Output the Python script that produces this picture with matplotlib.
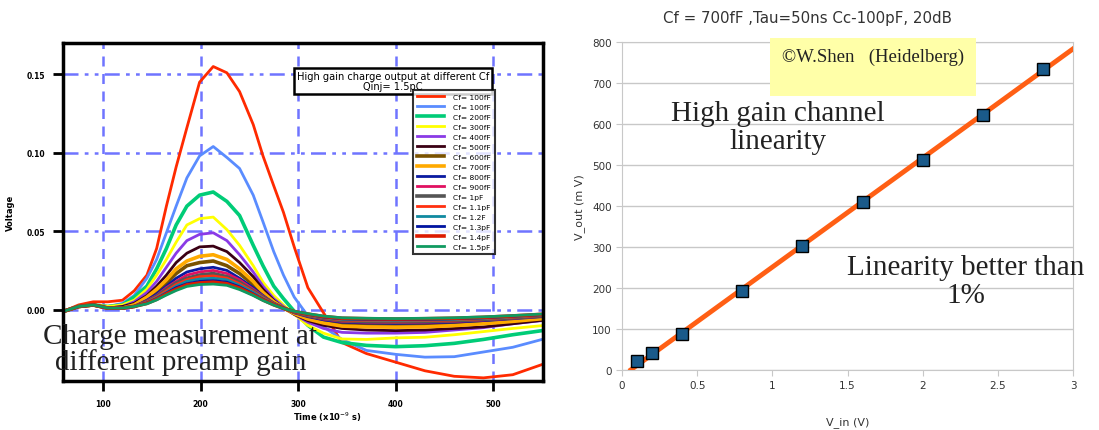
import matplotlib
matplotlib.use('Agg')
import matplotlib.pyplot as plt
from matplotlib.patches import Rectangle

# time samples (x1e-9 s)
t = [60, 75, 90, 105, 120, 132, 145, 155, 165, 175, 186, 199, 213, 227, 240,
     254, 264, 275, 285, 296, 310, 326, 345, 370, 400, 430, 460, 490, 520, 550]

v_100fF_a = [-0.001, 0.003, 0.005, 0.005, 0.006, 0.012, 0.022, 0.039, 0.066, 0.091, 0.116, 0.145, 0.155, 0.151, 0.139,
             0.118, 0.098, 0.079, 0.062, 0.040, 0.014, -0.002, -0.021, -0.028, -0.0335, -0.039, -0.0425, -0.0435, -0.0415, -0.035]
v_100fF_b = [-0.001, 0.002, 0.003, 0.002, 0.004, 0.009, 0.020, 0.032, 0.049, 0.066, 0.084, 0.098, 0.104, 0.097, 0.090,
             0.073, 0.056, 0.037, 0.022, 0.008, -0.004, -0.011, -0.019, -0.026, -0.0285, -0.0303, -0.030, -0.027, -0.024, -0.019]
v_200fF = [-0.001, 0.002, 0.003, 0.002, 0.003, 0.008, 0.015, 0.026, 0.039, 0.054, 0.066, 0.073, 0.075, 0.069, 0.060,
           0.041, 0.028, 0.015, 0.007, -0.001, -0.010, -0.0175, -0.021, -0.0228, -0.0236, -0.023, -0.0215, -0.019, -0.016, -0.0134]
v_300fF = [-0.001, 0.002, 0.003, 0.002, 0.003, 0.006, 0.013, 0.022, 0.032, 0.043, 0.054, 0.058, 0.059, 0.051, 0.041,
           0.028, 0.0175, 0.009, 0.003, -0.003, -0.010, -0.015, -0.0187, -0.019, -0.018, -0.0176, -0.016, -0.014, -0.012, -0.0102]
v_400fF = [-0.001, 0.002, 0.003, 0.001, 0.002, 0.005, 0.011, 0.018, 0.027, 0.036, 0.044, 0.048, 0.049, 0.044, 0.035,
           0.024, 0.015, 0.007, 0.002, -0.003, -0.008, -0.012, -0.0145, -0.015, -0.015, -0.0145, -0.013, -0.0115, -0.009, -0.007]
v_500fF = [-0.001, 0.002, 0.003, 0.001, 0.002, 0.004, 0.009, 0.015, 0.022, 0.030, 0.036, 0.040, 0.0405, 0.037, 0.030,
           0.021, 0.013, 0.006, 0.001, -0.003, -0.007, -0.010, -0.012, -0.013, -0.0134, -0.013, -0.012, -0.011, -0.009, -0.0068]
v_600fF = [-0.001, 0.002, 0.003, 0.001, 0.001, 0.003, 0.007, 0.012, 0.017, 0.023, 0.028, 0.030, 0.031, 0.028, 0.023,
           0.016, 0.010, 0.005, 0.001, -0.002, -0.005, -0.0075, -0.009, -0.0095, -0.0098, -0.0095, -0.009, -0.008, -0.0065, -0.005]
v_700fF = [-0.001, 0.002, 0.003, 0.001, 0.001, 0.003, 0.008, 0.013, 0.019, 0.026, 0.031, 0.034, 0.035, 0.032, 0.026,
           0.018, 0.011, 0.005, 0.001, -0.0025, -0.006, -0.0085, -0.0105, -0.011, -0.0112, -0.011, -0.0102, -0.009, -0.0075, -0.0058]
v_800fF = [-0.001, 0.002, 0.003, 0.001, 0.001, 0.002, 0.006, 0.010, 0.015, 0.020, 0.024, 0.026, 0.027, 0.025, 0.020,
           0.014, 0.009, 0.004, 0.001, -0.002, -0.0045, -0.0065, -0.008, -0.0085, -0.0088, -0.0085, -0.008, -0.007, -0.0058, -0.0045]
v_900fF = [-0.001, 0.002, 0.003, 0.001, 0.001, 0.002, 0.0055, 0.009, 0.014, 0.018, 0.022, 0.024, 0.025, 0.023, 0.019,
           0.013, 0.0085, 0.004, 0.001, -0.0018, -0.004, -0.006, -0.0075, -0.008, -0.0082, -0.008, -0.0075, -0.0066, -0.0055, -0.0042]
v_1pF = [-0.001, 0.002, 0.003, 0.001, 0.001, 0.002, 0.005, 0.0085, 0.013, 0.017, 0.020, 0.022, 0.023, 0.021, 0.0175,
         0.012, 0.008, 0.004, 0.001, -0.0016, -0.0037, -0.0055, -0.007, -0.0075, -0.0077, -0.0075, -0.007, -0.0062, -0.0052, -0.004]
v_1p1pF = [-0.001, 0.002, 0.003, 0.001, 0.001, 0.002, 0.0048, 0.008, 0.012, 0.016, 0.019, 0.021, 0.0215, 0.020, 0.0165,
           0.0115, 0.0075, 0.0038, 0.001, -0.0015, -0.0035, -0.0052, -0.0066, -0.007, -0.0072, -0.007, -0.0066, -0.0058, -0.0048, -0.0037]
v_1p2pF = [-0.001, 0.002, 0.003, 0.001, 0.001, 0.002, 0.0045, 0.0075, 0.011, 0.015, 0.018, 0.0195, 0.020, 0.019, 0.0155,
           0.011, 0.007, 0.0035, 0.001, -0.0014, -0.0033, -0.005, -0.0062, -0.0066, -0.0068, -0.0066, -0.0062, -0.0055, -0.0045, -0.0034]
v_1p3pF = [-0.001, 0.002, 0.003, 0.001, 0.001, 0.002, 0.0042, 0.007, 0.0105, 0.014, 0.0165, 0.018, 0.0185, 0.0175, 0.0145,
           0.010, 0.0065, 0.0033, 0.0009, -0.0013, -0.003, -0.0047, -0.0058, -0.0062, -0.0064, -0.0062, -0.0058, -0.0052, -0.0042, -0.0032]
v_1p4pF = [-0.001, 0.002, 0.003, 0.001, 0.001, 0.002, 0.004, 0.0066, 0.010, 0.013, 0.0158, 0.017, 0.0175, 0.0165, 0.0137,
           0.0095, 0.0062, 0.0031, 0.0008, -0.0012, -0.0028, -0.0044, -0.0055, -0.0058, -0.006, -0.0058, -0.0055, -0.0049, -0.004, -0.003]
v_1p5pF = [-0.001, 0.002, 0.003, 0.001, 0.001, 0.002, 0.0037, 0.0062, 0.0093, 0.0122, 0.0148, 0.016, 0.0163, 0.0155, 0.0128,
           0.009, 0.0058, 0.0029, 0.0007, -0.0011, -0.0026, -0.0041, -0.0052, -0.0055, -0.0057, -0.0055, -0.0052, -0.0046, -0.0038, -0.0028]

labels = ['Cf= 100fF', 'Cf= 100fF', 'Cf= 200fF', 'Cf= 300fF', 'Cf= 400fF', 'Cf= 500fF',
          'Cf= 600fF', 'Cf= 700fF', 'Cf= 800fF', 'Cf= 900fF', 'Cf= 1pF', 'Cf= 1.1pF',
          'Cf= 1.2F', 'Cf= 1.3pF', 'Cf= 1.4pF', 'Cf= 1.5pF']
curves = [v_100fF_a, v_100fF_b, v_200fF, v_300fF, v_400fF, v_500fF, v_600fF, v_700fF,
          v_800fF, v_900fF, v_1pF, v_1p1pF, v_1p2pF, v_1p3pF, v_1p4pF, v_1p5pF]
colors = ['#ff2a00', '#5a8cff', '#00cc77', '#ffff00', '#8a3ae6', '#3a0014', '#7a5200', '#ffaa00',
          '#0a1aa0', '#e01060', '#555555', '#ff3010', '#108aa0', '#0014a0', '#dd1a00', '#109a60']
widths = [2.0, 2.0, 2.6, 2.0, 2.0, 2.0, 2.6, 2.6, 2.0, 2.0, 2.6, 2.0, 2.0, 2.0, 2.6, 2.0]

# linearity measurement
v_in = [0.1, 0.2, 0.4, 0.8, 1.2, 1.6, 2.0, 2.4, 2.8]
v_out = [22, 41, 88, 192, 302, 410, 513, 622, 734]
fit_x = [0.06, 3.0]
fit_y = [0, 784]

fig = plt.figure(figsize=(10.99, 4.31), dpi=100)

# ---- left: scope traces
ax = fig.add_axes([0.0573, 0.1137, 0.4368, 0.7842])
grid_c = '#6f74ff'
for x in [100, 200, 300, 400, 500]:
    ax.axvline(x, color=grid_c, lw=1.8, ls=(0, (4, 3)), zorder=0)
for y in [0.0, 0.05, 0.10, 0.15]:
    ax.axhline(y, color=grid_c, lw=1.8, ls=(0, (6, 2.5, 1.5, 2.5, 1.5, 2.5)), zorder=0)
for v, c, w, lab in zip(curves, colors, widths, labels):
    ax.plot(t, v, color=c, lw=w, label=lab)
ax.set_xlim(59, 551)
ax.set_ylim(-0.0455, 0.17)
ax.set_xticks([100, 200, 300, 400, 500])
ax.set_yticks([0.0, 0.05, 0.10, 0.15])
ax.set_yticklabels(['0.00', '0.05', '0.10', '0.15'])
ax.tick_params(direction='out', length=7, width=2, labelsize=5.5, pad=6)
for lb in ax.get_xticklabels() + ax.get_yticklabels():
    lb.set_fontweight('bold')
for s in ax.spines.values():
    s.set_linewidth(2.5)
ax.set_xlabel('Time (x10$^{-9}$ s)', fontsize=6, fontweight='bold', labelpad=2)
ax.set_ylabel('Voltage', fontsize=6, fontweight='bold', labelpad=8)
ax.xaxis.set_label_coords(0.55, -0.085)
leg = ax.legend(loc='upper left', bbox_to_anchor=(0.722, 0.872), fontsize=5.4,
                frameon=True, fancybox=False, edgecolor='black', handlelength=3.6,
                labelspacing=0.5, borderpad=0.5, handletextpad=1.2)
leg.get_frame().set_linewidth(1.5)
ax.text(0.688, 0.888, 'High gain charge output at different Cf\nQinj= 1.5pC', transform=ax.transAxes,
        ha='center', va='center', fontsize=7.1, linespacing=1.0,
        bbox=dict(boxstyle='square,pad=0.3', fc='white', ec='black', lw=1.8))
fig.text(0.164, 0.188, 'Charge measurement at\ndifferent preamp gain', ha='center', va='center',
         fontsize=21, family='Liberation Serif', color='#222222', linespacing=0.98)

# ---- right: linearity
ax2 = fig.add_axes([0.566, 0.140, 0.4104, 0.7596])
ax2.plot(fit_x, fit_y, color='#ff5f14', lw=3.5, zorder=3)
ax2.plot(v_in, v_out, ls='none', marker='s', ms=8.5, mfc='#1a5a8a', mec='black', mew=1, zorder=4)
ax2.set_xlim(0, 3)
ax2.set_ylim(0, 800)
ax2.set_yticks(range(0, 801, 100))
ax2.set_xticks([0, 0.5, 1, 1.5, 2, 2.5, 3])
ax2.set_xticklabels(['0', '0.5', '1', '1.5', '2', '2.5', '3'])
ax2.grid(axis='y', color='#c8c8c8', lw=1)
ax2.set_axisbelow(True)
for s in ax2.spines.values():
    s.set_color('#c8c8c8')
ax2.tick_params(colors='#c8c8c8', labelcolor='#333333', labelsize=7.5, length=4)
ax2.set_xlabel('V_in (V)', fontsize=8, color='#333333', labelpad=19)
ax2.set_ylabel('V_out (m V)', fontsize=8, color='#333333', labelpad=5)
fig.text(0.735, 0.958, 'Cf = 700fF ,Tau=50ns Cc-100pF, 20dB', ha='center', va='center',
         fontsize=10.8, color='#333333')

fig.patches.append(Rectangle((770 / 1099, 1 - 97 / 431), 206 / 1099, 58 / 431,
                             transform=fig.transFigure, fc='#ffffa8', ec='none', zorder=5))
fig.text(873 / 1099, 1 - 57 / 431, '\u00a9W.Shen   (Heidelberg)', ha='center', va='center',
         fontsize=13.5, family='Liberation Serif', color='#222222', zorder=6)
fig.text(778 / 1099, 1 - 128 / 431, 'High gain channel\nlinearity', ha='center', va='center',
         fontsize=21, family='Liberation Serif', color='#222222', linespacing=1.1)
fig.text(966 / 1099, 1 - 282 / 431, 'Linearity better than\n1%', ha='center', va='center',
         fontsize=21, family='Liberation Serif', color='#222222', linespacing=1.1)

fig.savefig('out.png', dpi=100)
